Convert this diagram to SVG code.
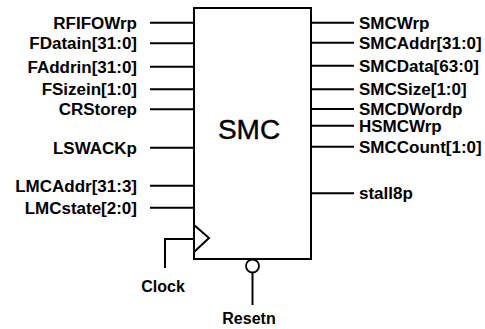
<svg xmlns="http://www.w3.org/2000/svg" width="485" height="329" viewBox="0 0 485 329">
<style>
.lbl{font-family:"Liberation Sans",Arial,sans-serif;font-weight:bold;font-size:16px;fill:#000}
.l{text-anchor:end}
.w{stroke:#000;stroke-width:2;fill:none}
</style>
<rect width="485" height="329" fill="#fff"/>
<g id="smc">
<rect x="194" y="8" width="117" height="251" fill="none" stroke="#000" stroke-width="2"/>
<text x="249" y="138.5" text-anchor="middle" font-family="Liberation Sans,Arial,sans-serif" font-size="28" stroke="#000" stroke-width="0.4">SMC</text>
<polyline points="194,225 209,238 194,252" class="w" stroke-width="1.5"/>
<circle cx="252.5" cy="266" r="6.5" fill="#fff" stroke="#000" stroke-width="1.8"/>
</g>
<g id="connectors">
<line x1="150" y1="22.7" x2="194" y2="22.7" class="w"/>
<line x1="150" y1="43.3" x2="194" y2="43.3" class="w"/>
<line x1="150" y1="66.7" x2="194" y2="66.7" class="w"/>
<line x1="150" y1="89.3" x2="194" y2="89.3" class="w"/>
<line x1="150" y1="109.3" x2="194" y2="109.3" class="w"/>
<line x1="150" y1="147.7" x2="194" y2="147.7" class="w"/>
<line x1="150" y1="185.7" x2="194" y2="185.7" class="w"/>
<line x1="150" y1="207.7" x2="194" y2="207.7" class="w"/>
<line x1="311" y1="22.7" x2="354" y2="22.7" class="w"/>
<line x1="311" y1="42.7" x2="354" y2="42.7" class="w"/>
<line x1="311" y1="65.7" x2="354" y2="65.7" class="w"/>
<line x1="311" y1="89.3" x2="354" y2="89.3" class="w"/>
<line x1="311" y1="109" x2="354" y2="109" class="w"/>
<line x1="311" y1="125.7" x2="354" y2="125.7" class="w"/>
<line x1="311" y1="146.7" x2="354" y2="146.7" class="w"/>
<line x1="311" y1="193.3" x2="354" y2="193.3" class="w"/>
<polyline points="194,239 165,239 165,268" class="w"/>
<line x1="252.5" y1="272.5" x2="252.5" y2="305" class="w"/>
</g>
<g id="labels">
<g id="left-labels" transform="translate(137 0) scale(1.0625 1) translate(-137 0)">
<text class="lbl l" x="137" y="28.7">RFIFOWrp</text>
<text class="lbl l" x="137" y="49.3">FDatain[31:0]</text>
<text class="lbl l" x="137" y="72.7">FAddrin[31:0]</text>
<text class="lbl l" x="137" y="95.3">FSizein[1:0]</text>
<text class="lbl l" x="137" y="115.3">CRStorep</text>
<text class="lbl l" x="137" y="153.7">LSWACKp</text>
<text class="lbl l" x="137" y="191.7">LMCAddr[31:3]</text>
<text class="lbl l" x="137" y="213.7">LMCstate[2:0]</text>
</g>
<g id="right-labels" transform="translate(359 0) scale(1.0625 1) translate(-359 0)">
<text class="lbl" x="359" y="28.7">SMCWrp</text>
<text class="lbl" x="359" y="48.7">SMCAddr[31:0]</text>
<text class="lbl" x="359" y="71.7">SMCData[63:0]</text>
<text class="lbl" x="359" y="95.3">SMCSize[1:0]</text>
<text class="lbl" x="359" y="115">SMCDWordp</text>
<text class="lbl" x="359" y="131.7">HSMCWrp</text>
<text class="lbl" x="359" y="152.7">SMCCount[1:0]</text>
<text class="lbl" x="359" y="199.3">stall8p</text>
</g>
<text class="lbl" x="163" y="292" text-anchor="middle">Clock</text>
<text class="lbl" x="249" y="324" text-anchor="middle">Resetn</text>
</g>
</svg>
